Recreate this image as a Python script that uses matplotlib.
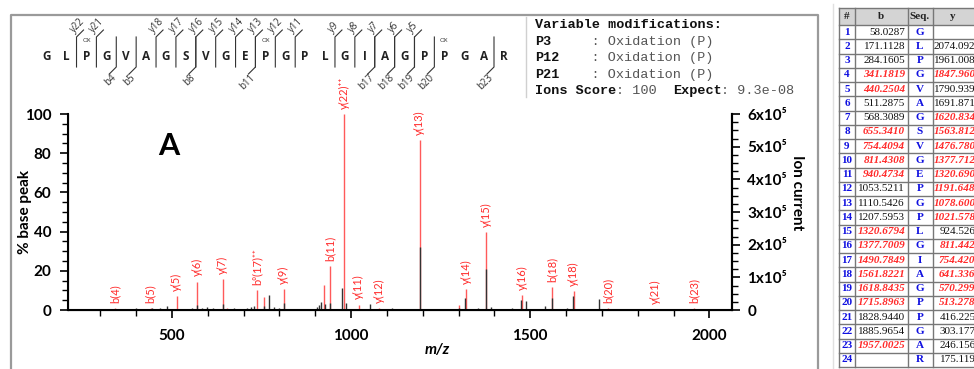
import matplotlib
matplotlib.use('Agg')
import matplotlib.pyplot as plt
from matplotlib.ticker import MultipleLocator, FuncFormatter

# peptide and fragment coverage
sequence = list("GLPGVAGSVGEPGPLGIAGPPGAR")
ox_sites = [3, 12, 21]
y_cuts = [22, 21, 18, 17, 16, 15, 14, 13, 12, 11, 9, 8, 7, 6, 5]
b_cuts = [4, 5, 8, 11, 17, 18, 19, 20, 23]

# matched (red) peaks with labels
lab_mz = [341.18, 440.25, 513.28, 570.30, 641.34, 736.9, 811.44, 940.47, 981.0,
          1021.58, 1078.61, 1191.65, 1320.69, 1377.71, 1476.78, 1561.82, 1620.83,
          1715.90, 1847.96, 1957.00]
lab_int = [0.8, 1.0, 7, 14.5, 16, 10.2, 10.8, 22.5, 100,
           2.8, 1.0, 86.7, 10.7, 40, 7.5, 11.5, 9.8,
           1.0, 0.7, 1.2]
lab_txt = ['b(4)', 'b(5)', 'y(5)', 'y(6)', 'y(7)', 'b\u2070(17)\u207a\u207a', 'y(9)', 'b(11)',
           'y(22)\u207a\u207a', 'y(11)', 'y(12)', 'y(13)', 'y(14)', 'y(15)', 'y(16)',
           'b(18)', 'y(18)', 'b(20)', 'y(21)', 'b(23)']

# other matched peaks, no label
red_mz = [655.0, 756.0, 925.5, 1301.0]
red_int = [1.2, 6.5, 13, 2.5]

# unmatched peaks
blk_mz = [400, 411, 444, 467, 486, 504, 541, 556, 570, 584, 599, 616, 642, 672,
          709, 721, 728, 756, 771, 784, 798, 814, 840, 905, 910, 916, 926, 942,
          975, 986, 1052, 1115, 1191.6, 1301, 1318, 1355, 1376, 1391, 1449, 1475,
          1489, 1542, 1561, 1603, 1619, 1692]
blk_int = [1.2, 0.6, 1.0, 0.8, 2.0, 0.7, 0.7, 0.8, 2.5, 1.2, 1.5, 0.8, 3.0, 0.8,
           0.8, 1.5, 2.0, 2.0, 7.8, 1.5, 0.8, 3.5, 0.5, 1.5, 2.5, 4.0, 3.0, 3.5,
           11, 3.5, 3.0, 1.0, 32, 1.0, 6, 0.8, 21, 1.5, 0.8, 5,
           4.5, 2.0, 6, 1.0, 7, 5.5]

# fragment table
tbl_seq = list("GLPGVAGSVGEPGPLGIAGPPGAR")
tbl_b = ['58.0287', '171.1128', '284.1605', '341.1819', '440.2504', '511.2875',
         '568.3089', '655.3410', '754.4094', '811.4308', '940.4734', '1053.5211',
         '1110.5426', '1207.5953', '1320.6794', '1377.7009', '1490.7849', '1561.8221',
         '1618.8435', '1715.8963', '1828.9440', '1885.9654', '1957.0025', '']
tbl_y = ['', '2074.0927', '1961.0086', '1847.9609', '1790.9395', '1691.8711',
         '1620.8340', '1563.8125', '1476.7805', '1377.7121', '1320.6906', '1191.6480',
         '1078.6003', '1021.5789', '924.5261', '811.4421', '754.4206', '641.3365',
         '570.2994', '513.2780', '416.2252', '303.1775', '246.1561', '175.1190']
b_hit = [4, 5, 8, 9, 10, 11, 15, 16, 17, 18, 19, 20, 23]
y_hit = [4, 7, 8, 9, 10, 11, 12, 13, 14, 16, 17, 18, 19, 20]

W, H = 974, 369
RED_LINE = '#ff5a5a'
RED_TXT = '#ff2a2a'
BLUE = '#1010e0'
SANS = ['Lato', 'DejaVu Sans']

fig = plt.figure(figsize=(W / 100, H / 100), dpi=100)

# overlay axes in pixel coordinates for the annotation parts
ov = fig.add_axes([0, 0, 1, 1])
ov.set_xlim(0, W)
ov.set_ylim(H, 0)
ov.axis('off')

# frames
ov.plot([11, 11, 818, 818], [H, 15, 15, H], color='#9a9a9a', lw=1.6)
ov.plot([526, 526], [17, 97], color='#d0d0d0', lw=1)
ov.plot([833, 833], [4, H], color='#e0e0e0', lw=1)

# peptide sequence
x0, dx = 46.7, 19.88
for i, aa in enumerate(sequence):
    ov.text(x0 + i * dx, 57, aa, ha='center', va='center', fontsize=8.5,
            fontweight='bold', family=['Open Sans', 'DejaVu Sans'], color='#222222')
for k in ox_sites:
    ov.text(x0 + (k - 1) * dx, 41, 'OX', ha='center', va='center', fontsize=4.5,
            family=['Open Sans', 'DejaVu Sans'], color='#333333')

cut_x = lambda k: x0 + (k - 1) * dx + dx / 2
for n in y_cuts:
    x = cut_x(len(sequence) - n)
    ov.plot([x, x, x + 7], [67, 37, 30], color='#333333', lw=0.8)
    ov.text(x - 1, 35, 'y%d' % n, rotation=45, rotation_mode='anchor', ha='left',
            va='bottom', fontsize=7, family=['Open Sans', 'DejaVu Sans'], color='#333333')
for n in b_cuts:
    x = cut_x(n)
    ov.plot([x, x, x - 7], [37, 67, 74], color='#333333', lw=0.8)
    ov.text(x - 6, 72, 'b%d' % n, rotation=45, rotation_mode='anchor', ha='right',
            va='top', fontsize=7, family=['Open Sans', 'DejaVu Sans'], color='#333333')

# modifications box
MONO = ['Liberation Mono', 'DejaVu Sans Mono']
cw = 8.1
mods = [
    [('Variable modifications:', True)],
    [('P3', True), ('     : Oxidation (P)', False)],
    [('P12', True), ('    : Oxidation (P)', False)],
    [('P21', True), ('    : Oxidation (P)', False)],
    [('Ions Score', True), (': 100  ', False), ('Expect', True), (': 9.3e-08', False)],
]
for r, parts in enumerate(mods):
    col = 0
    for s, bold in parts:
        ov.text(535 + col * cw, 25 + r * 16.6, s, ha='left', va='center', fontsize=9.7,
                family=MONO, fontweight='bold' if bold else 'normal',
                color='#111111' if bold else '#555555')
        col += len(s)

# fragment table
cols = [839, 855, 907.5, 932.5, 1010]
top, hdr, rh = 8.3, 25, 14.25
bottom = hdr + 24 * rh
ov.add_patch(plt.Rectangle((cols[0], top), cols[-1] - cols[0], hdr - top,
                           facecolor='#d4d4d4', edgecolor='none'))
for cx in cols:
    ov.plot([cx, cx], [top, bottom], color='#777777', lw=1)
ov.plot([cols[0], cols[-1]], [top, top], color='#777777', lw=1)
for r in range(25):
    yy = hdr + r * rh
    ov.plot([cols[0], cols[-1]], [yy, yy], color='#777777', lw=1)
SERIF = ['Liberation Serif', 'DejaVu Serif']
for cx0, cx1, t in zip(cols[:-1], cols[1:], ['#', 'b', 'Seq.', 'y']):
    xc = (cx0 + cx1) / 2 if t != 'y' else 953
    ov.text(xc, (top + hdr) / 2, t, ha='center', va='center', fontsize=8,
            fontweight='bold', family=SERIF, color='#222222')
for i in range(24):
    yc = hdr + (i + 0.5) * rh
    ov.text(847, yc, str(i + 1), ha='center', va='center', fontsize=8,
            fontweight='bold', family=SERIF, color=BLUE)
    hit = (i + 1) in b_hit
    ov.text(905, yc, tbl_b[i], ha='right', va='center', fontsize=8, family=SERIF,
            color=RED_TXT if hit else '#111111', style='italic' if hit else 'normal',
            fontweight='bold' if hit else 'normal')
    ov.text(920, yc, tbl_seq[i], ha='center', va='center', fontsize=8,
            fontweight='bold', family=SERIF, color=BLUE)
    hit = (i + 1) in y_hit
    ov.text(981, yc, tbl_y[i], ha='right', va='center', fontsize=8, family=SERIF,
            color=RED_TXT if hit else '#111111', style='italic' if hit else 'normal',
            fontweight='bold' if hit else 'normal')

# spectrum
ax = fig.add_axes([68 / W, (H - 310) / H, (732 - 68) / W, (310 - 114) / H])
ax.patch.set_alpha(0)
ax.vlines(lab_mz, 0, lab_int, color=RED_LINE, lw=1)
ax.vlines(red_mz, 0, red_int, color=RED_LINE, lw=1)
ax.vlines(blk_mz, 0, blk_int, color='#333333', lw=1)
for mz, h, t in zip(lab_mz, lab_int, lab_txt):
    ax.text(mz, max(h, 0.6) + 2.6, t, rotation=90, ha='center', va='bottom',
            fontsize=8, color=RED_TXT, family=SANS, clip_on=False)

ax.set_xlim(210, 2063)
ax.set_ylim(0, 100)
ax.spines['top'].set_visible(False)
for s in ['left', 'bottom', 'right']:
    ax.spines[s].set_linewidth(1.5)
ax.xaxis.set_major_locator(MultipleLocator(500))
ax.xaxis.set_minor_locator(MultipleLocator(100))
ax.yaxis.set_major_locator(MultipleLocator(20))
ax.yaxis.set_minor_locator(MultipleLocator(5))
ax.tick_params(which='major', length=6, width=1.2, pad=6)
ax.tick_params(which='minor', length=4, width=1)
ax.tick_params(axis='x', which='major', pad=8)
for lbl in ax.get_xticklabels() + ax.get_yticklabels():
    lbl.set_family(SANS)
    lbl.set_fontweight('bold')
    lbl.set_fontsize(11)

ax2 = ax.twinx()
ax2.set_ylim(0, 6e5)
ax2.spines['top'].set_visible(False)
ax2.spines['right'].set_linewidth(1.5)
ax2.yaxis.set_major_locator(MultipleLocator(1e5))
ax2.yaxis.set_minor_locator(MultipleLocator(2.5e4))
ax2.yaxis.set_major_formatter(FuncFormatter(
    lambda v, p: '0' if v == 0 else '%dx10\u2075' % round(v / 1e5)))
ax2.tick_params(which='major', length=6, width=1.2, pad=5)
ax2.tick_params(which='minor', length=4, width=1)
for lbl in ax2.get_yticklabels():
    lbl.set_family(SANS)
    lbl.set_fontweight('bold')
    lbl.set_fontsize(11)

ov.text(25, 212, '% base peak', rotation=90, ha='center', va='center', fontsize=11,
        fontweight='bold', family=SANS)
ov.text(797, 193, 'Ion current', rotation=-90, ha='center', va='center', fontsize=11,
        fontweight='bold', family=SANS)
ov.text(437, 350, 'm/z', ha='center', va='center', fontsize=11, fontweight='bold',
        style='italic', family=SANS)
ov.text(169, 146, 'A', ha='center', va='center', fontsize=22, fontweight='bold',
        family=SANS)

fig.savefig('out.png', dpi=100)
